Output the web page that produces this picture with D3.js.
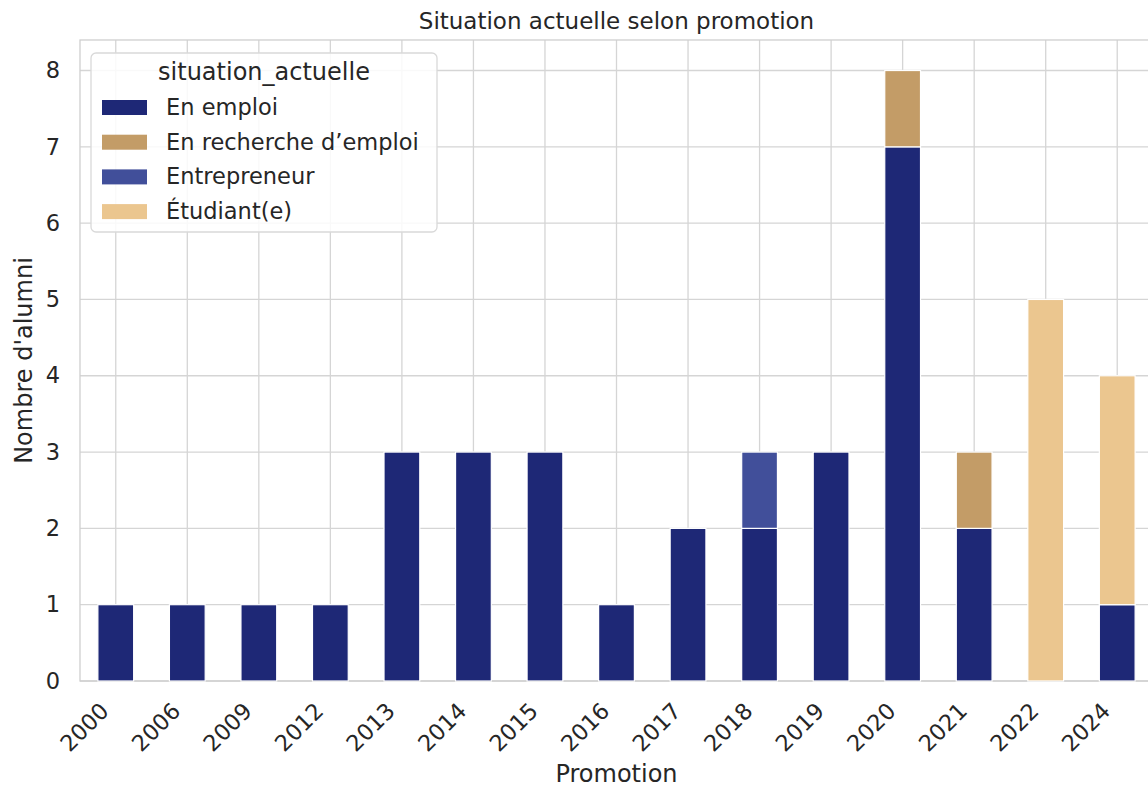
<!DOCTYPE html>
<html>
<head>
<meta charset="utf-8">
<script src="https://cdn.jsdelivr.net/npm/d3@7"></script>
<style>
  html, body { margin: 0; padding: 0; background: #ffffff; overflow: hidden; }
  svg { display: block; font-family: "DejaVu Sans", sans-serif; }
</style>
</head>
<body>
<svg id="chart" width="1148" height="792"></svg>
<script>
// Promotion years (x categories)
const promotions = ["2000", "2006", "2009", "2012", "2013", "2014", "2015", "2016",
                    "2017", "2018", "2019", "2020", "2021", "2022", "2024"];

// Stacked series, in stacking order
const situations = ["En emploi", "En recherche d\u2019emploi", "Entrepreneur", "\u00C9tudiant(e)"];
const enEmploi      = [1, 1, 1, 1, 3, 3, 3, 1, 2, 2, 3, 7, 2, 0, 1];
const enRecherche   = [0, 0, 0, 0, 0, 0, 0, 0, 0, 0, 0, 1, 1, 0, 0];
const entrepreneur  = [0, 0, 0, 0, 0, 0, 0, 0, 0, 1, 0, 0, 0, 0, 0];
const etudiant      = [0, 0, 0, 0, 0, 0, 0, 0, 0, 0, 0, 0, 0, 5, 3];

const yTicks = [0, 1, 2, 3, 4, 5, 6, 7, 8];
const colors = ["#1e2876", "#c39c67", "#414f9a", "#ebc68f"];

const seriesValues = [enEmploi, enRecherche, entrepreneur, etudiant];
const rows = promotions.map((p, i) => {
  const r = { promotion: p };
  situations.forEach((s, k) => { r[s] = seriesValues[k][i]; });
  return r;
});

const svg = d3.select("#chart");
const plotLeft = 80, plotRight = 1153, plotTop = 40, plotBottom = 681;
const textColor = "#262626";
const gridColor = "#d5d5d5";

const x = d3.scaleBand().domain(promotions).range([plotLeft, plotRight])
  .paddingInner(0.5).paddingOuter(0.25);
const totals = rows.map(r => d3.sum(situations, s => r[s]));
const y = d3.scaleLinear().domain([0, d3.max(totals) * 1.05]).range([plotBottom, plotTop]);

// Grid
const grid = svg.append("g");
grid.selectAll("line.h").data(yTicks).join("line")
  .attr("x1", plotLeft).attr("x2", plotRight)
  .attr("y1", d => y(d)).attr("y2", d => y(d))
  .attr("stroke", gridColor).attr("stroke-width", 1.3);
grid.selectAll("line.v").data(promotions).join("line")
  .attr("x1", d => x(d) + x.bandwidth() / 2).attr("x2", d => x(d) + x.bandwidth() / 2)
  .attr("y1", plotTop).attr("y2", plotBottom)
  .attr("stroke", gridColor).attr("stroke-width", 1.3);

// Frame
svg.append("rect").attr("x", plotLeft).attr("y", plotTop)
  .attr("width", plotRight - plotLeft).attr("height", plotBottom - plotTop)
  .attr("fill", "none").attr("stroke", "#cfcfcf").attr("stroke-width", 1.3);

// Stacked bars
const stacked = d3.stack().keys(situations)(rows);
svg.append("g").selectAll("g").data(stacked).join("g")
  .attr("fill", (d, i) => colors[i])
  .selectAll("rect").data(d => d.filter(v => v[1] - v[0] > 0)).join("rect")
  .attr("x", d => x(d.data.promotion))
  .attr("width", x.bandwidth())
  .attr("y", d => y(d[1]))
  .attr("height", d => y(d[0]) - y(d[1]))
  .attr("stroke", "#ffffff").attr("stroke-width", 1.2);

// Y axis
const yAxis = d3.axisLeft(y).tickValues(yTicks).tickSize(0).tickPadding(20).tickFormat(d3.format("d"));
const gy = svg.append("g").attr("transform", `translate(${plotLeft},0)`).call(yAxis);
gy.select(".domain").remove();
gy.selectAll("text").attr("font-size", 22.5).attr("fill", textColor)
  .attr("font-family", "DejaVu Sans, sans-serif");

// X axis with rotated labels
const xAxis = d3.axisBottom(x).tickSize(0).tickPadding(0);
const gx = svg.append("g").attr("transform", `translate(0,${plotBottom})`).call(xAxis);
gx.select(".domain").remove();
gx.selectAll("text")
  .attr("font-size", 22.5).attr("fill", textColor)
  .attr("font-family", "DejaVu Sans, sans-serif")
  .attr("text-anchor", "end")
  .attr("y", 0).attr("dy", "0.72em")
  .attr("transform", "translate(-17,20) rotate(-45)");

// Titles
svg.append("text").attr("x", (plotLeft + plotRight) / 2).attr("y", 29)
  .attr("text-anchor", "middle").attr("font-size", 23).attr("fill", textColor)
  .text("Situation actuelle selon promotion");
svg.append("text").attr("x", (plotLeft + plotRight) / 2).attr("y", 782)
  .attr("text-anchor", "middle").attr("font-size", 24).attr("fill", textColor)
  .text("Promotion");
svg.append("text")
  .attr("transform", `translate(32,${(plotTop + plotBottom) / 2}) rotate(-90)`)
  .attr("text-anchor", "middle").attr("font-size", 24).attr("fill", textColor)
  .text("Nombre d'alumni");

// Legend
const lg = svg.append("g");
lg.append("rect").attr("x", 91).attr("y", 53).attr("width", 346).attr("height", 179)
  .attr("rx", 5).attr("fill", "#ffffff").attr("fill-opacity", 0.85)
  .attr("stroke", "#d9d9d9").attr("stroke-width", 1.3);
lg.append("text").attr("x", 264).attr("y", 80).attr("text-anchor", "middle")
  .attr("font-size", 24).attr("fill", textColor).text("situation_actuelle");
const items = lg.selectAll("g.item").data(situations).join("g")
  .attr("transform", (d, i) => `translate(0,${100 + i * 34.7})`);
items.append("rect").attr("x", 102).attr("y", 0).attr("width", 45).attr("height", 15)
  .attr("fill", (d, i) => colors[i]);
items.append("text").attr("x", 166).attr("y", 15)
  .attr("font-size", 22.5).attr("fill", textColor).text(d => d);
</script>
</body>
</html>
